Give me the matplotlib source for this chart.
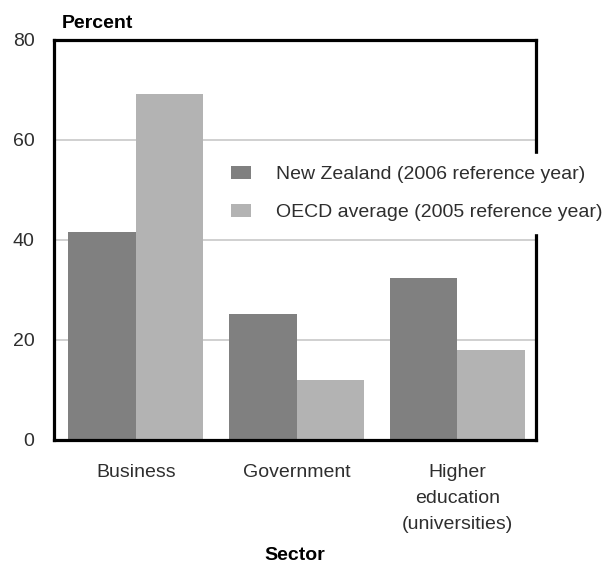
import numpy as np
import matplotlib.pyplot as plt

# Sector shares of gross R&D expenditure
setores = ["Business", "Government", "Higher\neducation\n(universities)"]
nova_zelandia = [41.7, 25.3, 32.4]
media_ocde = [69.3, 12.0, 18.1]
rotulos_serie = ["New Zealand (2006 reference year)", "OECD average (2005 reference year)"]
ticks_y = [0, 20, 40, 60, 80]

plt.rcParams["font.family"] = ["Liberation Sans", "DejaVu Sans"]

fig = plt.figure(figsize=(6.07, 5.65), dpi=100)
ax = fig.add_axes([54 / 607, 1 - 440 / 565, 482 / 607, 400 / 565])

x = np.arange(len(setores))
largura = 0.42
ax.bar(x - largura / 2, nova_zelandia, largura, color="#808080", label=rotulos_serie[0], zorder=2)
ax.bar(x + largura / 2, media_ocde, largura, color="#b3b3b3", label=rotulos_serie[1], zorder=2)

ax.set_xlim(-0.51, 2.49)
ax.set_ylim(0, 80)
ax.set_yticks(ticks_y)
ax.set_xticks(x)
ax.set_xticklabels(setores, linespacing=1.72)
ax.tick_params(axis="both", length=0, labelsize=14, colors="#2e2e2e")
ax.tick_params(axis="y", pad=14)
ax.tick_params(axis="x", pad=17)

# Grade horizontal suave atrás das barras
ax.yaxis.grid(True, color="#c8c8c8", linewidth=1.2, zorder=0)
ax.set_axisbelow(True)

for lado in ax.spines.values():
    lado.set_linewidth(2.3)
    lado.set_color("black")

ax.set_xlabel("Sector", fontsize=14, fontweight="bold", labelpad=10)
fig.text(62 / 607, 1 - 23 / 565, "Percent", fontsize=14, fontweight="bold", va="center", ha="left")

leg = ax.legend(
    loc="upper left",
    bbox_to_anchor=(219 / 607, 1 - 154 / 565),
    bbox_transform=fig.transFigure,
    borderaxespad=0,
    borderpad=0.6,
    frameon=True,
    fancybox=False,
    edgecolor="white",
    framealpha=1,
    fontsize=14,
    handlelength=1.05,
    handleheight=0.7,
    handletextpad=1.3,
    labelspacing=1.05,
)
leg.set_zorder(5)
for t in leg.get_texts():
    t.set_color("#2e2e2e")

plt.savefig("out.png", dpi=100)
plt.close()
